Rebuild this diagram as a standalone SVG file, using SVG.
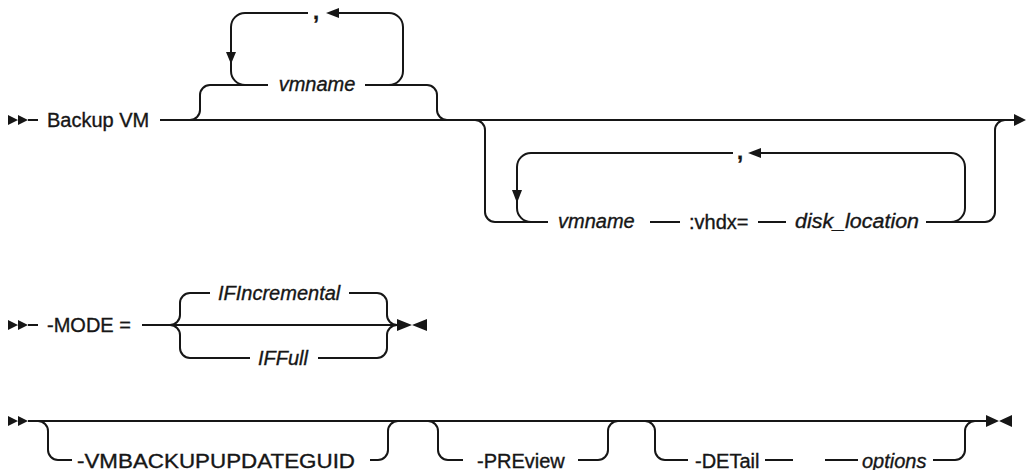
<svg xmlns="http://www.w3.org/2000/svg" width="1028" height="470" viewBox="0 0 1028 470">
<style>
.t{font-family:"Liberation Sans",Arial,sans-serif;font-size:20px;fill:#161616;stroke:#161616;stroke-width:0.35}
.i{font-style:italic}
.cm{font-weight:bold;font-size:22px}
.c path.l{fill:none;stroke:#161616;stroke-width:2}
.c path.a{fill:#161616;stroke:none}
</style>
<rect width="1028" height="470" fill="#ffffff"/>
<g id="connectors" class="c">
<!-- row 1 -->
<path class="a" d="M8,115 L18,120 L8,125 Z M18,115 L28,120 L18,125 Z"/>
<path class="l" d="M28,120 H38"/>
<path class="l" d="M160,120 H1014"/>
<path class="a" d="M1014,114 L1026,120 L1014,126 Z"/>
<path class="l" d="M190,120 A10,10 0 0 0 200,110 V95 A10,10 0 0 1 210,85 H268"/>
<path class="l" d="M365,85 H427 A10,10 0 0 1 437,95 V110 A10,10 0 0 0 447,120"/>
<path class="l" d="M245,85 A14,14 0 0 1 231,71 V27 A14,14 0 0 1 245,13 H308"/>
<path class="l" d="M338,13 H389 A14,14 0 0 1 403,27 V71 A14,14 0 0 1 389,85"/>
<path class="a" d="M226,52 L236,52 L231,64 Z"/>
<path class="a" d="M339,8 L339,18 L326,13 Z"/>
<path class="l" d="M475,120 A10,10 0 0 1 485,130 V212 A10,10 0 0 0 495,222 H548"/>
<path class="l" d="M531,222 A14,14 0 0 1 517,208 V167 A14,14 0 0 1 531,153 H733"/>
<path class="l" d="M761,153 H951 A14,14 0 0 1 965,167 V208 A14,14 0 0 1 951,222"/>
<path class="a" d="M512,190 L522,190 L517,203 Z"/>
<path class="a" d="M761,148 L761,158 L748,153 Z"/>
<path class="l" d="M650,222 H680 M758,222 H786"/>
<path class="l" d="M926,222 H985 A10,10 0 0 0 995,212 V130 A10,10 0 0 1 1005,120"/>
<!-- row 3 -->
<path class="a" d="M8,320 L18,325 L8,330 Z M18,320 L28,325 L18,330 Z"/>
<path class="l" d="M28,325 H38"/>
<path class="l" d="M142,325 H397"/>
<path class="l" d="M170,325 A10,10 0 0 0 180,315 V303 A10,10 0 0 1 190,293 H210"/>
<path class="l" d="M170,325 A10,10 0 0 1 180,335 V348 A10,10 0 0 0 190,358 H250"/>
<path class="l" d="M349,293 H377 A10,10 0 0 1 387,303 V315 A10,10 0 0 0 397,325"/>
<path class="l" d="M318,358 H377 A10,10 0 0 0 387,348 V335 A10,10 0 0 1 397,325"/>
<path class="a" d="M397,319 L412,325 L397,331 Z M427,319 L412,325 L427,331 Z"/>
<!-- row 4 -->
<path class="a" d="M8,416 L18,421 L8,426 Z M18,416 L28,421 L18,426 Z"/>
<path class="l" d="M28,421 H986"/>
<path class="l" d="M38,421 A10,10 0 0 1 48,431 V450 A10,10 0 0 0 58,460 H72"/>
<path class="l" d="M370,460 H378 A10,10 0 0 0 388,450 V431 A10,10 0 0 1 398,421"/>
<path class="l" d="M428,421 A10,10 0 0 1 438,431 V450 A10,10 0 0 0 448,460 H463"/>
<path class="l" d="M578,460 H598 A10,10 0 0 0 608,450 V431 A10,10 0 0 1 618,421"/>
<path class="l" d="M645,421 A10,10 0 0 1 655,431 V450 A10,10 0 0 0 665,460 H688"/>
<path class="l" d="M765,460 H793 M825,460 H858"/>
<path class="l" d="M933,460 H955 A10,10 0 0 0 965,450 V431 A10,10 0 0 1 975,421"/>
<path class="a" d="M986,415 L999,421 L986,427 Z M1012,415 L999,421 L1012,427 Z"/>
</g>
<g id="n-backupvm"><text class="t" x="47" y="127">Backup VM</text></g>
<g id="n-vmname1"><text class="t i" x="317" y="91" text-anchor="middle">vmname</text></g>
<g id="n-comma1"><text class="t cm" x="313" y="19">,</text></g>
<g id="n-vmname2"><text class="t i" x="558" y="228">vmname</text></g>
<g id="n-vhdx"><text class="t" x="689" y="229">:vhdx=</text></g>
<g id="n-disk"><text class="t i" x="795" y="228" textLength="124" lengthAdjust="spacingAndGlyphs">disk_location</text></g>
<g id="n-comma2"><text class="t cm" x="737" y="159">,</text></g>
<g id="n-mode"><text class="t" x="47" y="332">-MODE =</text></g>
<g id="n-ifinc"><text class="t i" x="218" y="300">IFIncremental</text></g>
<g id="n-iffull"><text class="t i" x="258" y="365">IFFull</text></g>
<g id="n-vmbackup"><text class="t" x="77" y="468" textLength="278" lengthAdjust="spacingAndGlyphs">-VMBACKUPUPDATEGUID</text></g>
<g id="n-preview"><text class="t" x="477" y="468">-PREview</text></g>
<g id="n-detail"><text class="t" x="695" y="468">-DETail</text></g>
<g id="n-options"><text class="t i" x="862" y="468">options</text></g>
</svg>
